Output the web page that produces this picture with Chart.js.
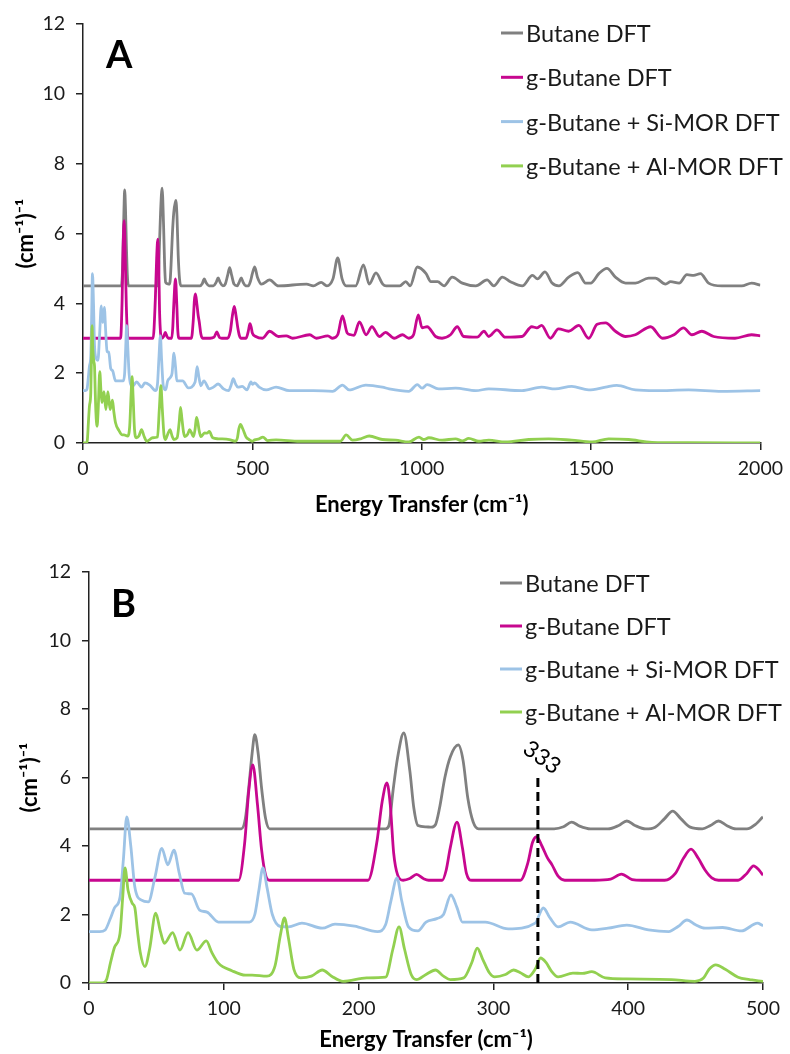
<!DOCTYPE html>
<html>
<head>
<meta charset="utf-8">
<script src="https://cdn.jsdelivr.net/npm/chart.js@4.4.0/dist/chart.umd.min.js"></script>
<style>
  html, body { margin: 0; padding: 0; background: #fff; }
  .panel { position: absolute; left: 0; width: 790px; height: 527px; }
  .panel canvas { display: block; }
  #panelA { top: 0; }
  #panelB { top: 527px; }
</style>
</head>
<body>
<div class="panel" id="panelA"><canvas id="chartA" width="790" height="527"></canvas></div>
<div class="panel" id="panelB"><canvas id="chartB" width="790" height="527"></canvas></div>
<script>
// INS spectra (offset stacked), energy transfer in cm-1
const seriesLabels = ['Butane DFT', 'g-Butane DFT', 'g-Butane + Si-MOR DFT', 'g-Butane + Al-MOR DFT'];
const seriesColors = ['#808080', '#c7078f', '#9dc3e6', '#92d050'];

const butaneE = [0, 113, 116, 118.5, 121, 123, 125.5, 128, 131, 134,
  220, 222.5, 225.5, 229, 233.5, 238, 241, 244, 250, 254,
  257, 260, 264, 268, 274, 277.5, 281, 285, 289,
  345, 352, 358, 364, 372,
  385, 393, 399, 405, 413,
  420, 427, 433, 439, 446,
  455, 461, 467, 473, 480,
  488, 495, 500, 507, 515, 527, 551, 577, 660, 680, 703, 720, 738, 752, 765, 777, 805, 828, 845, 865, 885, 895, 935, 953, 966, 987, 1013, 1027, 1047, 1066, 1090, 1120, 1160, 1193, 1213, 1238, 1262, 1297, 1327, 1342, 1364, 1385, 1405, 1434, 1461, 1484, 1499, 1523, 1547, 1572, 1602, 1631, 1670, 1690, 1720, 1735, 1760, 1783, 1803, 1823, 1847, 1886, 1945, 1974, 2000];
const butaneI = [4.5, 4.5, 4.8, 5.7, 6.7, 7.25, 6.7, 5.7, 4.8, 4.5,
  4.5, 4.6, 5.6, 6.6, 7.3, 6.2, 5.1, 4.6, 4.56, 4.55,
  4.62, 5.1, 6.0, 6.6, 6.95, 6.5, 5.4, 4.7, 4.5,
  4.5, 4.56, 4.7, 4.58, 4.5,
  4.5, 4.6, 4.73, 4.6, 4.5,
  4.55, 4.8, 5.02, 4.8, 4.55,
  4.5, 4.6, 4.73, 4.6, 4.5,
  4.5, 4.65, 4.85, 5.04, 4.75, 4.55, 4.67, 4.5, 4.55, 4.5, 4.6, 4.5, 4.7, 5.3, 4.7, 4.5, 4.5, 5.1, 4.55, 4.87, 4.55, 4.5, 4.5, 4.62, 4.5, 5.04, 4.85, 4.62, 4.62, 4.5, 4.75, 4.58, 4.5, 4.67, 4.5, 4.75, 4.62, 4.5, 4.8, 4.7, 4.9, 4.58, 4.5, 4.75, 4.88, 4.58, 4.58, 4.85, 5.0, 4.75, 4.58, 4.58, 4.72, 4.72, 4.55, 4.62, 4.58, 4.82, 4.8, 4.85, 4.58, 4.5, 4.5, 4.58, 4.52];

const gButaneE = [0, 111, 115.5, 118.5, 121.5, 125, 128, 131, 134,
  207, 213.5, 217.5, 221, 223.5, 226, 229, 233, 238, 243, 248, 252,
  262, 265, 268, 273, 277, 280, 284,
  320, 325.5, 329, 332, 336, 340, 343.5, 348, 353,
  375, 387, 395, 403, 410,
  427, 435, 441, 446.6, 452, 457, 462, 467,
  481.5, 488, 493, 497, 500, 510, 530, 551, 577, 600, 619, 669, 689, 723, 737, 752, 766, 780, 791, 800, 816, 836, 853, 875, 893, 919, 943, 962, 976, 990, 1001, 1016, 1041, 1060, 1085, 1105, 1124, 1164, 1184, 1198, 1222, 1247, 1296, 1325, 1340, 1354, 1380, 1404, 1434, 1464, 1493, 1518, 1543, 1572, 1602, 1631, 1676, 1711, 1745, 1773, 1798, 1827, 1862, 1925, 1974, 2000];
const gButaneI = [3.0, 3.0, 4.1, 5.6, 6.37, 5.2, 3.9, 3.15, 3.0,
  3.0, 4.1, 5.3, 5.84, 5.2, 3.8, 3.15, 3.0, 3.05, 3.17, 3.05, 3.0,
  3.0, 3.3, 3.95, 4.7, 3.95, 3.2, 3.0,
  3.0, 3.5, 4.1, 4.27, 4.0, 3.66, 3.45, 3.12, 3.0,
  3.0, 3.03, 3.18, 3.02, 3.0,
  3.0, 3.2, 3.64, 3.91, 3.64, 3.3, 3.07, 3.0,
  3.0, 3.2, 3.42, 3.3, 3.15, 3.05, 3.0, 3.2, 3.05, 3.07, 3.0, 3.1, 3.0, 3.07, 3.0, 3.1, 3.64, 3.15, 3.1, 3.08, 3.47, 3.1, 3.33, 3.05, 3.17, 3.0, 3.1, 3.0, 3.1, 3.67, 3.3, 3.33, 3.05, 3.0, 3.1, 3.33, 3.05, 3.03, 3.2, 3.05, 3.24, 3.03, 3.05, 3.33, 3.3, 3.37, 3.0, 3.27, 3.2, 3.37, 3.0, 3.4, 3.44, 3.2, 3.05, 3.1, 3.33, 3.0, 3.1, 3.3, 3.1, 3.2, 3.05, 3.0, 3.1, 3.07];

const siMorE = [0, 8, 12, 16, 19, 23, 25.5, 28, 31, 34, 39, 44, 49, 54, 58.5, 63, 67, 71, 76, 82, 87.5, 96, 106, 119,
  123, 126, 129, 132, 136, 142, 148, 158, 173, 182.5, 197, 214,
  220, 224, 228.5, 232, 237, 244, 250, 258, 263, 268.5, 273, 277, 294, 311, 331, 337, 342, 348, 357, 373,
  385, 399, 415, 430, 437, 443.6, 450, 457, 470, 484, 496, 500,
  507, 520, 541, 570, 609, 680, 737, 766, 786, 835, 884, 904, 962, 987, 1001, 1016, 1050, 1100, 1160, 1198, 1296, 1354, 1394, 1443, 1493, 1543, 1576, 1631, 1690, 1788, 1886, 2000];
const siMorI = [1.5, 1.5, 1.55, 1.9, 2.2, 2.5, 3.6, 4.85, 4.0, 2.8, 2.42, 2.37, 3.1, 3.93, 3.45, 3.88, 3.2, 2.62, 2.6, 2.13, 2.07, 1.78, 1.78, 1.78,
  2.0, 2.7, 3.36, 2.8, 2.0, 1.65, 1.64, 1.75, 1.6, 1.72, 1.66, 1.5,
  1.7, 2.4, 3.07, 2.4, 1.64, 1.52, 1.78, 1.88, 2.0, 2.57, 2.2, 1.78, 1.78, 1.58, 1.75, 2.19, 1.9, 1.64, 1.78, 1.55,
  1.6, 1.69, 1.55, 1.5, 1.65, 1.84, 1.7, 1.6, 1.62, 1.52, 1.75, 1.68,
  1.72, 1.6, 1.52, 1.6, 1.5, 1.5, 1.48, 1.66, 1.52, 1.66, 1.6, 1.55, 1.48, 1.67, 1.57, 1.67, 1.55, 1.57, 1.5, 1.55, 1.5, 1.6, 1.55, 1.62, 1.52, 1.6, 1.65, 1.52, 1.5, 1.52, 1.48, 1.5];

const alMorE = [0, 10, 13, 16, 19, 23, 25, 26.7, 29, 32, 34, 36, 38, 41.5, 45, 49.5, 53, 56, 62, 67.5, 73.5, 80, 87, 91, 96, 106, 116, 121, 132,
  138, 142, 145, 148, 152, 157, 165, 173, 180, 188.5, 206, 220,
  225.5, 230, 234, 239, 243, 250, 257, 263, 268, 278, 284, 288, 292, 297, 301, 309, 315, 320, 326, 331, 335, 339, 343, 348, 359, 366, 373, 383, 399, 432, 449.5, 456, 460, 465, 472, 481.5, 490, 500,
  507, 520, 531, 545, 570, 639, 737, 760, 777, 796, 820, 845, 884, 923, 962, 992, 1006, 1021, 1060, 1100, 1120, 1139, 1169, 1198, 1247, 1316, 1375, 1443, 1503, 1552, 1611, 1680, 1788, 2000];
const alMorI = [0, 0, 0.1, 0.6, 1.05, 1.45, 2.5, 3.36, 2.7, 2.33, 2.2, 1.5, 0.9, 0.48, 1.0, 2.04, 1.5, 1.16, 1.47, 0.96, 1.47, 0.96, 1.23, 0.9, 0.58, 0.36, 0.23, 0.23, 0.2,
  0.5, 1.4, 1.9, 1.3, 0.4, 0.15, 0.2, 0.38, 0.2, 0.05, 0.15, 0.17,
  1.0, 1.64, 1.0, 0.25, 0.1, 0.25, 0.38, 0.2, 0.1, 0.15, 0.6, 1.02, 0.7, 0.3, 0.18, 0.25, 0.38, 0.3, 0.18, 0.4, 0.73, 0.6, 0.35, 0.18, 0.29, 0.28, 0.33, 0.15, 0.12, 0.1, 0.05, 0.15, 0.4, 0.53, 0.4, 0.17, 0.1, 0.05,
  0.09, 0.12, 0.17, 0.07, 0.09, 0.05, 0.05, 0.05, 0.23, 0.08, 0.12, 0.2, 0.1, 0.08, 0.03, 0.17, 0.1, 0.15, 0.08, 0.12, 0.06, 0.13, 0.05, 0.08, 0.03, 0.1, 0.12, 0.08, 0.03, 0.12, 0.1, 0.02, 0.01, 0];

// marked band in panel B
const markerEnergy = 333;
const markerTop = 6.0;

const seriesE = [butaneE, gButaneE, siMorE, alMorE];
const seriesI = [butaneI, gButaneI, siMorI, alMorI];

Chart.defaults.font.family = 'Lato, "Open Sans", sans-serif';
Chart.defaults.color = '#1a1a1a';

function spectrumDatasets() {
  return seriesLabels.map((label, k) => ({
    label: label,
    data: seriesE[k].map((e, i) => ({ x: e, y: seriesI[k][i] })),
    borderColor: seriesColors[k],
    borderWidth: 2.8,
    pointRadius: 0,
    cubicInterpolationMode: 'monotone',
    fill: false,
    order: seriesLabels.length - k
  }));
}

// panel letter, in-plot legend and the 333 label
const panelDecor = {
  id: 'panelDecor',
  afterDraw(chart, args, o) {
    const ctx = chart.ctx;
    ctx.save();
    ctx.fillStyle = '#000';
    ctx.textAlign = 'left';
    ctx.textBaseline = 'alphabetic';
    ctx.font = 'bold 38px Lato';
    ctx.fillText(o.letter, o.letterX, o.letterY);

    ctx.font = '23.5px Lato';
    seriesLabels.forEach((label, k) => {
      const y = o.legendY + k * o.legendStep;
      ctx.strokeStyle = seriesColors[k];
      ctx.lineWidth = 3;
      ctx.beginPath();
      ctx.moveTo(o.legendX, y);
      ctx.lineTo(o.legendX + 22, y);
      ctx.stroke();
      ctx.fillStyle = '#1a1a1a';
      ctx.fillText(label, o.legendX + 25, y + 9);
    });

    if (o.marker) {
      const xs = chart.scales.x.getPixelForValue(markerEnergy);
      const ys = chart.scales.y.getPixelForValue(markerTop);
      ctx.translate(xs + 4, ys - 20);
      ctx.rotate(35 * Math.PI / 180);
      ctx.font = '23px Lato';
      ctx.fillStyle = '#000';
      ctx.textAlign = 'center';
      ctx.textBaseline = 'middle';
      ctx.fillText(String(markerEnergy), 0, 0);
    }
    ctx.restore();
  }
};

function makeChart(id, p) {
  const datasets = spectrumDatasets();
  if (p.marker) {
    datasets.push({
      label: 'marker',
      data: [{ x: markerEnergy, y: 0 }, { x: markerEnergy, y: markerTop }],
      borderColor: '#000',
      borderWidth: 3,
      borderDash: [9, 5],
      pointRadius: 0,
      order: 0
    });
  }
  return new Chart(document.getElementById(id), {
    type: 'line',
    data: { datasets: datasets },
    options: {
      responsive: false,
      animation: false,
      layout: { padding: p.padding },
      plugins: {
        legend: { display: false },
        tooltip: { enabled: false },
        panelDecor: p.decor
      },
      scales: {
        x: {
          type: 'linear',
          min: 0,
          max: p.xMax,
          ticks: { stepSize: p.xStep, padding: 7, font: { size: 19.5 }, color: '#1a1a1a', callback: v => String(v) },
          grid: { drawOnChartArea: false, tickLength: 7, color: '#222', lineWidth: 1.5 },
          border: { color: '#222', width: 1.5 },
          title: { display: true, text: 'Energy Transfer (cm⁻¹)', color: '#000', font: { size: 22, weight: 'bold' }, padding: { top: 0, bottom: 0 } },
          afterFit: s => { s.height = p.xHeight; }
        },
        y: {
          min: 0,
          max: 12,
          ticks: { stepSize: 2, padding: 11, font: { size: 19.5 }, color: '#1a1a1a' },
          grid: { drawOnChartArea: false, tickLength: 7, color: '#222', lineWidth: 1.5 },
          border: { color: '#222', width: 1.5 },
          title: { display: true, text: '(cm⁻¹)⁻¹', color: '#000', font: { size: 22, weight: 'bold' }, padding: { top: p.yTitlePad, bottom: 0 } },
          afterFit: s => { s.width = p.yWidth; }
        }
      }
    },
    plugins: [panelDecor]
  });
}

makeChart('chartA', {
  xMax: 2000, xStep: 500,
  padding: { left: 0, right: 28, top: 24, bottom: 9 },
  xHeight: 75, yWidth: 83, yTitlePad: 13,
  decor: { letter: 'A', letterX: 106, letterY: 68, legendX: 501, legendY: 33, legendStep: 44.3 }
});

makeChart('chartB', {
  xMax: 500, xStep: 100, marker: true,
  padding: { left: 0, right: 27, top: 45, bottom: 1 },
  xHeight: 70, yWidth: 89, yTitlePad: 17,
  decor: { letter: 'B', letterX: 111, letterY: 90, legendX: 500, legendY: 56, legendStep: 43, marker: true }
});
</script>
</body>
</html>
